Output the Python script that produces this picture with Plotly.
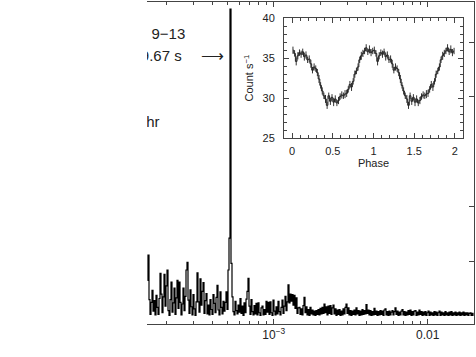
import numpy as np
import plotly.graph_objects as go

# power spectrum: one value per log-spaced frequency bin between F_MIN and F_MAX
F_MIN = 1.5e-4
F_MAX = 0.02
power = [
    6.5, 11.1, 3.0, 0.3, 2.5, 4.7, 0.9, 2.8, 0.2, 3.8, 1.6, 0.3, 3.2,
    7.8, 4.0, 0.6, 3.5, 7.6, 1.8, 5.5, 8.4, 1.0, 0.1, 3.0, 6.2, 0.7,
    2.4, 5.1, 0.3, 3.3, 6.5, 1.4, 6.2, 2.5, 0.2, 2.2, 5.1, 1.0, 3.6,
    8.4, 9.8, 2.9, 0.5, 4.8, 1.7, 0.2, 3.9, 1.3, 0.1, 2.6, 7.9, 2.6,
    0.7, 6.8, 2.0, 4.5, 6.1, 0.5, 2.8, 4.1, 0.4, 2.0, 0.2, 3.0, 1.2,
    0.3, 3.9, 2.3, 0.6, 3.4, 5.6, 1.1, 0.2, 4.4, 1.6, 0.4, 2.7, 0.9,
    2.5, 4.4, 1.2, 8.4, 14.2, 56.0, 9.6, 3.5, 0.8, 0.2, 2.7, 1.0, 0.4,
    2.0, 0.7, 3.2, 0.5, 1.8, 0.1, 2.4, 0.6, 3.1, 4.5, 6.9, 1.8, 0.3,
    3.0, 0.8, 0.2, 1.9, 0.4, 2.3, 0.2, 2.4, 0.6, 0.1, 1.5, 1.8, 0.2,
    1.2, 0.3, 2.7, 0.7, 2.5, 0.3, 2.6, 0.6, 0.1, 2.9, 0.9, 0.2, 1.7,
    0.4, 2.7, 0.8, 0.2, 1.6, 2.9, 0.5, 1.8, 3.6, 1.0, 2.6, 5.7, 2.4,
    4.0, 2.7, 3.9, 2.0, 3.8, 1.4, 3.3, 0.5, 1.5, 1.6, 0.3, 1.3, 0.2,
    1.9, 3.4, 0.6, 1.7, 0.2, 1.2, 0.1, 1.6, 0.4, 1.1, 0.2, 0.9, 0.1,
    1.0, 0.3, 1.2, 0.2, 1.4, 0.4, 1.6, 0.5, 2.2, 0.6, 1.7, 0.2, 1.8,
    0.5, 1.9, 0.3, 1.5, 2.0, 0.4, 1.3, 0.1, 1.1, 0.3, 1.2, 0.1, 0.9,
    0.2, 1.3, 0.4, 1.6, 2.2, 0.5, 1.5, 0.2, 1.0, 0.1, 0.9, 0.3, 1.1,
    0.2, 1.5, 0.4, 1.0, 0.1, 0.9, 0.2, 1.2, 0.3, 1.0, 0.4, 2.1, 0.5,
    1.1, 0.2, 1.0, 0.1, 0.8, 0.2, 1.4, 0.3, 0.9, 0.1, 0.8, 0.2, 1.0,
    0.3, 0.9, 0.1, 1.1, 1.3, 0.2, 0.8, 0.1, 0.9, 0.2, 0.7, 1.0, 0.2,
    0.8, 1.5, 0.3, 0.9, 0.1, 0.7, 0.2, 0.9, 1.2, 0.2, 0.8, 0.1, 0.7,
    0.2, 1.0, 0.3, 1.1, 0.1, 0.8, 0.2, 0.9, 1.0, 0.1, 0.7, 0.2, 1.1,
    0.3, 0.8, 0.1, 0.7, 0.2, 0.8, 0.1, 0.6, 0.9, 0.1, 0.7, 0.2, 0.6,
    0.1, 0.8, 0.2, 0.7, 0.1, 0.6, 0.9, 0.1, 0.7, 0.2, 0.6, 0.1, 0.8,
    0.2, 0.6, 0.1, 0.7, 0.2, 0.8, 0.1, 0.6, 0.2, 0.7, 0.1, 0.6, 0.2,
    0.7, 0.1, 0.6, 0.2, 0.7, 0.1, 0.6, 0.2, 0.6, 0.1, 0.5, 0.6, 0.1, 0.5, 0.1,
]

# folded light curve, 50 phase bins (plotted over two cycles)
rate = [
    36.0, 35.6, 34.6, 35.3, 35.7, 35.5, 35.8, 35.2, 35.4, 34.8,
    34.9, 34.3, 33.5, 33.9, 33.7, 33.2, 32.4, 31.6, 30.9, 30.3,
    29.9, 29.1, 30.3, 29.6, 30.1, 29.5, 29.9, 29.4, 29.7, 30.2,
    30.4, 30.3, 30.5, 30.6, 31.1, 31.7, 31.4, 32.1, 33.0, 33.4,
    33.9, 34.8, 35.3, 35.6, 35.9, 36.3, 35.8, 36.1, 35.7, 35.9,
]
rate_err = [
    0.45, 0.4, 0.5, 0.45, 0.4, 0.45, 0.4, 0.5, 0.45, 0.4,
    0.45, 0.5, 0.4, 0.45, 0.4, 0.45, 0.5, 0.4, 0.45, 0.4,
    0.5, 0.45, 0.4, 0.45, 0.4, 0.5, 0.45, 0.4, 0.45, 0.4,
    0.45, 0.4, 0.5, 0.45, 0.4, 0.45, 0.5, 0.4, 0.45, 0.4,
    0.45, 0.4, 0.5, 0.45, 0.4, 0.45, 0.4, 0.5, 0.45, 0.4,
]

x_tickvals = [1e-3, 1e-2]
x_ticktext = ["10<sup>\u22123</sup>", "0.01"]
x_minor = [2e-4, 3e-4, 4e-4, 5e-4, 6e-4, 7e-4, 8e-4, 9e-4,
           2e-3, 3e-3, 4e-3, 5e-3, 6e-3, 7e-3, 8e-3, 9e-3]
y_tickvals = [10, 20, 40, 50]

notes = ["Jan  9\u221213", "P = 1919.67 s", "\u27f6", "T = 5.6 hr"]
notes_f = [2.66e-4, 2.52e-4, 4.0e-4, 1.81e-4]
notes_p = [51.2, 47.2, 47.2, 35.2]
notes_pos = ["middle left", "middle left", "middle center", "middle left"]
notes_size = [15, 15, 16, 15]

n = len(power)
lo, hi = np.log10(F_MIN), np.log10(F_MAX)
freq = 10 ** (lo + (np.arange(n) + 0.5) * (hi - lo) / n)

nb = len(rate)
phase = (np.arange(nb) + 0.5) / nb
phase2 = np.concatenate([phase, phase + 1])
rate2 = rate + rate
err2 = rate_err + rate_err

ink = "#222222"
axc = "#444444"

fig = go.Figure()
fig.add_trace(go.Scatter(
    x=freq, y=power, mode="lines",
    line=dict(color="#000000", width=1.2, shape="hvh"),
    cliponaxis=True, hoverinfo="skip",
))
fig.add_trace(go.Scatter(
    x=notes_f, y=notes_p, mode="text", text=notes,
    textposition=notes_pos,
    textfont=dict(size=notes_size, color=ink),
    cliponaxis=True, hoverinfo="skip",
))
fig.add_trace(go.Scatter(
    x=phase2, y=rate2, mode="lines",
    line=dict(color="#222222", width=1, shape="hvh"),
    error_y=dict(type="data", array=err2, thickness=1, width=0, color="#333333"),
    xaxis="x2", yaxis="y2", hoverinfo="skip",
))

axis_common = dict(showline=True, linecolor=axc, linewidth=1, ticks="inside",
                   tickcolor=axc, showgrid=False, zeroline=False, automargin=False)

fig.update_layout(
    template="none",
    width=476, height=357,
    margin=dict(l=147, r=2, t=2, b=33),
    paper_bgcolor="white", plot_bgcolor="white",
    showlegend=False,
    font=dict(family="Liberation Sans, Arial, sans-serif", size=11, color=ink),
    xaxis=dict(
        axis_common, type="log", range=[lo, hi], mirror="ticks", ticklen=5,
        tickvals=x_tickvals, ticktext=x_ticktext,
        tickfont=dict(size=12),
        minor=dict(tickvals=x_minor, ticks="inside", ticklen=3, tickcolor=axc, showgrid=False),
    ),
    yaxis=dict(
        axis_common, range=[-1.45, 57.3], side="right", ticklen=5,
        tickvals=y_tickvals, showticklabels=False,
    ),
    xaxis2=dict(
        axis_common, domain=[0.419, 0.9664], anchor="y2", range=[-0.1, 2.1],
        mirror="ticks", ticklen=5, tick0=0, dtick=0.5,
        tickfont=dict(size=11), ticklabelstandoff=3,
        minor=dict(dtick=0.1, tick0=0, ticks="inside", ticklen=3, tickcolor=axc, showgrid=False),
        title=dict(text="Phase", font=dict(size=11), standoff=3),
    ),
    yaxis2=dict(
        axis_common, domain=[0.5774, 0.9495], anchor="x2", range=[25, 40],
        mirror="ticks", ticklen=5, tick0=25, dtick=5,
        tickfont=dict(size=11), ticklabelstandoff=6,
        minor=dict(dtick=1, tick0=25, ticks="inside", ticklen=3, tickcolor=axc, showgrid=False),
        title=dict(text="Count s<sup>\u22121</sup>", font=dict(size=11), standoff=6),
    ),
)

# the page's default body margin would shift the whole figure
fig.write_html("out.html", config={"displayModeBar": False},
               post_script="document.body.style.margin = '0';")
